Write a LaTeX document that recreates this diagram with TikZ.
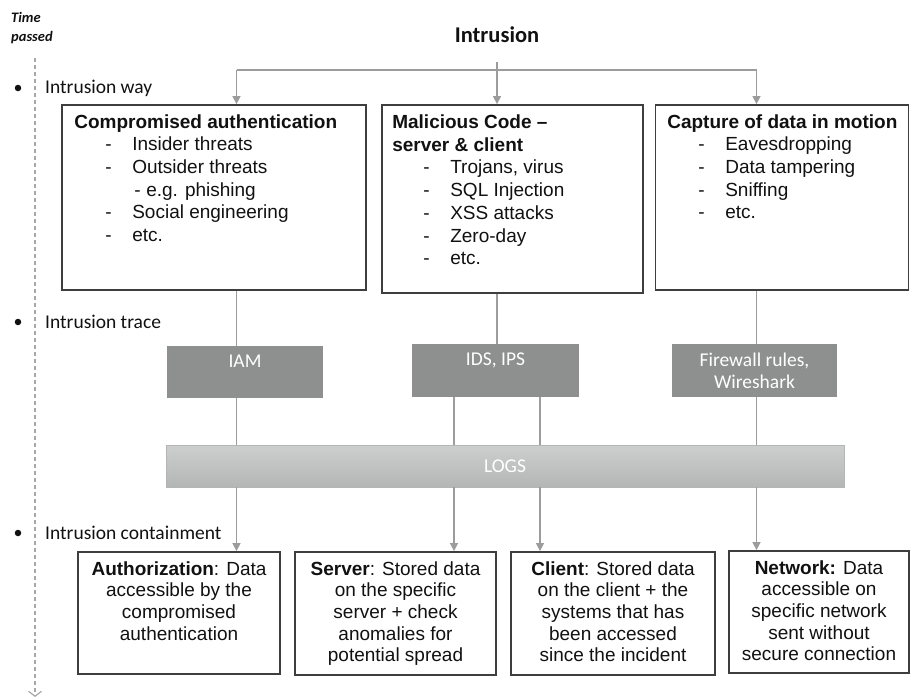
\documentclass[tikz,border=0pt]{standalone}
\usepackage{fontspec}
\setmainfont{Liberation Sans}
\newfontfamily\calfont{Carlito}
\usepackage{tikz}
\usetikzlibrary{arrows.meta,positioning,calc}
\definecolor{ink}{HTML}{111111}
\definecolor{frame}{HTML}{3E3E3E}
\definecolor{wiregrey}{HTML}{9C9C9C}
\definecolor{toolgrey}{HTML}{8E908F}
\definecolor{logtop}{HTML}{CDCFCE}
\definecolor{logbot}{HTML}{B4B6B5}
\definecolor{timegrey}{HTML}{A8A8A8}

\newcommand{\litem}[1]{\hspace*{31pt}\makebox[27pt][l]{-}#1}
\newcommand{\lsub}[1]{\hspace*{60pt}\makebox[12pt][l]{-}#1}

\begin{document}
\begin{tikzpicture}[
  x=1pt, y=-1pt,
  font=\fontsize{19}{22.7}\selectfont,
  casebox/.style={draw=frame, line width=1.8pt, fill=white, inner sep=0pt},
  boxtext/.style={align=left, inner sep=0pt, text=ink},
  scopetext/.style={align=center, inner sep=0pt, text=ink,
    font=\fontsize{19}{21.7}\selectfont},
  tool/.style={fill=toolgrey, text=white, align=center, inner sep=0pt,
    font=\calfont\fontsize{19.5}{22}\selectfont},
  logbar/.style={top color=logtop, bottom color=logbot, draw=logbot, text=white,
    inner sep=0pt, font=\calfont\fontsize{19.5}{22}\selectfont},
  phase/.style={anchor=west, inner sep=0pt, text=ink,
    font=\calfont\fontsize{19.5}{22}\selectfont},
  dot/.style={circle, fill=ink, inner sep=0pt, minimum size=6.5pt},
  link/.style={draw=wiregrey, line width=1.5pt},
  arr/.style={link, -{Triangle[length=8pt,width=8pt]}},
  timeline/.style={draw=timegrey, line width=1.2pt, dash pattern=on 4pt off 3pt,
    -{Straight Barb[length=5pt,width=13pt]}}
]
\useasboundingbox (0,0) rectangle (910,699);

\def\xa{236.5}
\def\xb{497}
\def\xc{756.5}
\def\xl{454}
\def\xr{540}

% time axis
\node[anchor=north west, align=left, inner sep=0pt, text=ink,
  font=\calfont\bfseries\itshape\fontsize{14.5}{19}\selectfont] (clock) at (11,12) {Time\\passed};
\coordinate (t0) at (35,58);
\coordinate (t1) at (35,697);
\draw[timeline] (t0) -- (t1);

\node[dot] (d1) at (18,88) {};
\node[dot] (d2) at (18,322) {};
\node[dot] (d3) at (18,533) {};
\node[phase] (p1) at (45,88) {Intrusion way};
\node[phase] (p2) at (45,322) {Intrusion trace};
\node[phase] (p3) at (45,533) {Intrusion containment};

\node[font=\calfont\bfseries\fontsize{22.5}{26}\selectfont, text=ink] (title) at (497,35) {Intrusion};

% intrusion ways
\node[casebox, minimum width=304pt, minimum height=185pt] (b1) at (214,197.5) {};
\node[casebox, minimum width=261pt, minimum height=188pt] (b2) at (512.5,199) {};
\node[casebox, minimum width=253pt, minimum height=185pt] (b3) at (782,197.5) {};

\node[boxtext, below right=10pt and 13pt of b1.north west] (w1)
  {\textbf{Compromised authentication}\\
   \litem{Insider threats}\\
   \litem{Outsider threats}\\
   \lsub{e.g. phishing}\\
   \litem{Social engineering}\\
   \litem{etc.}};
\node[boxtext, below right=10.5pt and 11pt of b2.north west] (w2)
  {\textbf{Malicious Code –}\\
   \textbf{server \& client}\\
   \litem{Trojans, virus}\\
   \litem{SQL Injection}\\
   \litem{XSS attacks}\\
   \litem{Zero-day}\\
   \litem{etc.}};
\node[boxtext, below right=10pt and 12.5pt of b3.north west] (w3)
  {\textbf{Capture of data in motion}\\
   \litem{Eavesdropping}\\
   \litem{Data tampering}\\
   \litem{Sniffing}\\
   \litem{etc.}};

% traces
\node[tool, minimum width=156pt, minimum height=52pt] (iam) at (245,372) {IAM\\\mbox{}};
\node[tool, minimum width=167pt, minimum height=53pt] (ids) at (495.5,370.5) {IDS, IPS\\\mbox{}};
\node[tool, minimum width=165pt, minimum height=53pt] (fw) at (754.5,370.5) {Firewall rules,\\Wireshark};
\node[logbar, minimum width=678pt, minimum height=42pt] (logs) at (505,466) {LOGS};

% containment
\node[casebox, minimum width=202pt, minimum height=122pt] (c1) at (179,613) {};
\node[casebox, minimum width=201pt, minimum height=123pt] (c2) at (395.5,613.5) {};
\node[casebox, minimum width=204pt, minimum height=123pt] (c3) at (613,613.5) {};
\node[casebox, minimum width=180pt, minimum height=122pt] (c4) at (819,612) {};

\node[scopetext, below=10pt of c1.north] (s1)
  {\textbf{Authorization}: Data\\accessible by the\\compromised\\authentication};
\node[scopetext, below=10pt of c2.north] (s2)
  {\textbf{Server}: Stored data\\on the specific\\server + check\\anomalies for\\potential spread};
\node[scopetext, below=10pt of c3.north] (s3)
  {\textbf{Client}: Stored data\\on the client + the\\systems that has\\been accessed\\since the incident};
\node[scopetext, below=10pt of c4.north] (s4)
  {\textbf{Network:} Data\\accessible on\\specific network\\sent without\\secure connection};

% connectors
\coordinate (fork) at (\xb,62);
\coordinate (railL) at (\xa,70);
\coordinate (railR) at (\xc,70);
\draw[link] (railL) -- (railR);
\draw[arr] (railL) -- (railL |- b1.north);
\draw[arr] (fork) -- (fork |- b2.north);
\draw[arr] (railR) -- (railR |- b3.north);

\draw[link] (b1.south -| \xa,0) -- (iam.north -| \xa,0);
\draw[link] (b2.south -| \xb,0) -- (ids.north -| \xb,0);
\draw[link] (b3.south -| \xc,0) -- (fw.north -| \xc,0);

\draw[link] (iam.south -| \xa,0) -- (logs.north -| \xa,0);
\draw[link] (ids.south -| \xl,0) -- (logs.north -| \xl,0);
\draw[link] (ids.south -| \xr,0) -- (logs.north -| \xr,0);
\draw[link] (fw.south -| \xc,0) -- (logs.north -| \xc,0);

\draw[arr] (logs.south -| \xa,0) -- (c1.north -| \xa,0);
\draw[arr] (logs.south -| \xl,0) -- (c2.north -| \xl,0);
\draw[arr] (logs.south -| \xr,0) -- (c3.north -| \xr,0);
\draw[arr] (logs.south -| \xc,0) -- (c4.north -| \xc,0);

\end{tikzpicture}
\end{document}
